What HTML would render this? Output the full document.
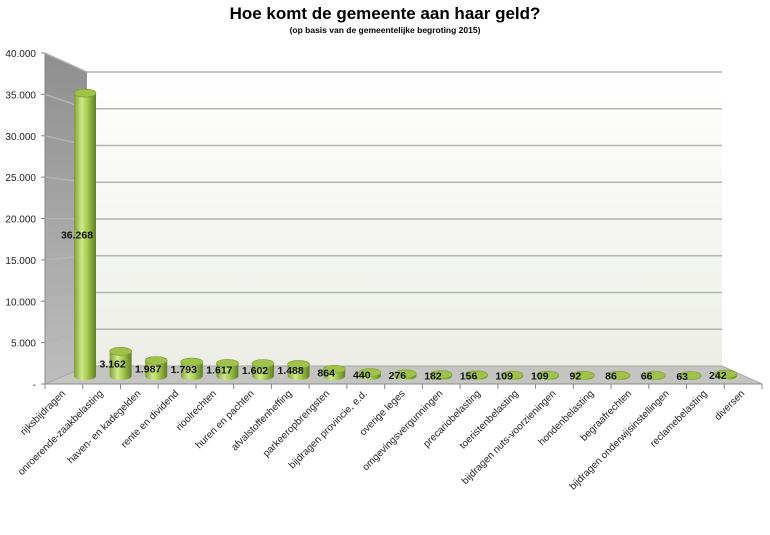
<!DOCTYPE html>
<html><head><meta charset="utf-8"><style>
body{margin:0;background:#fff;width:770px;height:530px;overflow:hidden}
svg{font-family:"Liberation Sans",Tahoma,sans-serif}
</style></head><body>
<svg id="c" width="770" height="530">
<defs>
<linearGradient id="wall" x1="0" y1="0" x2="0" y2="1"><stop offset="0" stop-color="#ffffff"/><stop offset="1" stop-color="#eceee6"/></linearGradient>
<linearGradient id="side" x1="0" y1="0" x2="0" y2="1"><stop offset="0" stop-color="#8f8f8f"/><stop offset="1" stop-color="#bdbdbd"/></linearGradient>
<linearGradient id="cyl" x1="0" y1="0" x2="1" y2="0"><stop offset="0" stop-color="#7f9e36"/><stop offset="0.35" stop-color="#cfe98a"/><stop offset="0.6" stop-color="#a6cc52"/><stop offset="1" stop-color="#5f7d22"/></linearGradient>
</defs>
<text x="385" y="19" text-anchor="middle" font-size="17" font-weight="bold" fill="#000">Hoe komt de gemeente aan haar geld?</text>
<text x="385" y="33" text-anchor="middle" font-size="8.5" font-weight="bold" fill="#000">(op basis van de gemeentelijke begroting 2015)</text>
<g id="g"></g>
</svg>
<script>
const categories=["rijksbijdragen","onroerende-zaakbelasting","haven- en kadegelden","rente en dividend","rioolrechten","huren en pachten","afvalstoffenheffing","parkeeropbrengsten","bijdragen provincie, e.d.","overige leges","omgevingsvergunningen","precariobelasting","toeristenbelasting","bijdragen nuts-voorzieningen","hondenbelasting","begraafrechten","bijdragen onderwijsinstellingen","reclamebelasting","diversen"];
const values=[36268,3162,1987,1793,1617,1602,1488,864,440,276,182,156,109,109,92,86,66,63,242];
const valueLabels=["36.268","3.162","1.987","1.793","1.617","1.602","1.488","864","440","276","182","156","109","109","92","86","66","63","242"];
const yTicks=[0,5000,10000,15000,20000,25000,30000,35000,40000];
const yTickLabels=["-","5.000","10.000","15.000","20.000","25.000","30.000","35.000","40.000"];

const NS="http://www.w3.org/2000/svg";
const g=document.getElementById('g');
function el(t,a,p){const e=document.createElementNS(NS,t);for(const k in a)e.setAttribute(k,a[k]);(p||g).appendChild(e);return e;}
const MAX=40000;
const fx0=45,fx1=762,fy0=384,fH=331;
const bx0=87,bx1=722,by0=366,bH=294;
const yFront=v=>fy0-v/MAX*fH;
const yBack=v=>by0-v/MAX*bH;
const yMid=v=>376-v/MAX*312;
const xFront=i=>fx0+(fx1-fx0)*i/categories.length;
const xMid=i=>85+i*35.6;

let e=el('rect',{x:bx0,y:yBack(MAX),width:bx1-bx0,height:bH,fill:'url(#wall)'});

e=el('polygon',{points:`${fx0},${yFront(MAX)} ${bx0},${yBack(MAX)} ${bx0},${by0} ${fx0},${fy0}`,fill:'url(#side)'});

e=el('polygon',{points:`${fx0},${fy0} ${bx0},${by0} ${bx1},${by0} ${fx1},${fy0}`,fill:'#c4c5c0',stroke:'#a8a8a8','stroke-width':1});

yTicks.forEach((v,k)=>{
  if(v>0){
    const l=el('polyline',{points:`${fx0},${yFront(v)} ${bx0},${yBack(v)} ${bx1},${yBack(v)}`,fill:'none',stroke:'#b4b4b4','stroke-width':1.5});
    
  }
  const t=el('text',{x:36,y:yFront(v)+4,'text-anchor':'end','font-size':10,fill:'#222'});
  t.textContent=yTickLabels[k];
  
  const tk=el('line',{x1:fx0-4,x2:fx0,y1:yFront(v),y2:yFront(v),stroke:'#888'});
  
});
e=el('line',{x1:fx0,y1:yFront(MAX),x2:fx0,y2:fy0,stroke:'#888'});

e=el('line',{x1:fx0,y1:fy0,x2:fx1,y2:fy0,stroke:'#888'});

for(let i=0;i<=categories.length;i++){
  const t=el('line',{x1:xFront(i),x2:xFront(i),y1:fy0,y2:fy0+5,stroke:'#888'});
  
}
const rx=11,ry=4;
values.forEach((v,i)=>{
  const cx=xMid(i),top=yMid(v),base=yMid(0);
  const grp=el('g',{});
  
  
  el('path',{d:`M${cx-rx},${top} L${cx-rx},${base} A${rx},${ry} 0 0 0 ${cx+rx},${base} L${cx+rx},${top} Z`,fill:'url(#cyl)'},grp);
  el('ellipse',{cx:cx,cy:top,rx:rx,ry:ry,fill:'#9fc24a',stroke:'#7a9a30','stroke-width':0.6},grp);
  const t=el('text',{x:cx-8,y:(top+base)/2+4,'text-anchor':'middle','font-size':10.5,'font-weight':'bold',fill:'#111'});
  t.textContent=valueLabels[i];
  
});
categories.forEach((c,i)=>{
  const x=(xFront(i)+xFront(i+1))/2+2,y=fy0+10;
  const t=el('text',{x:x,y:y,'text-anchor':'end','font-size':10,fill:'#222',transform:`rotate(-45 ${x} ${y})`});
  t.textContent=c;
  
});
</script>
</body></html>
